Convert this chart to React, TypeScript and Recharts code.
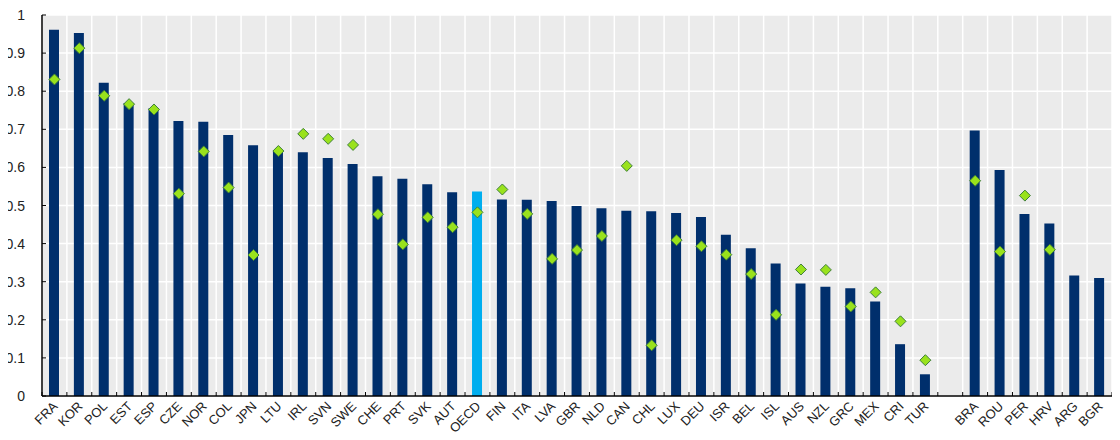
import { Bar, CartesianGrid, Cell, ComposedChart, Line, XAxis, YAxis } from 'recharts';

// country codes, a blank slot separates OECD members from partner economies
const countries = [
  'FRA', 'KOR', 'POL', 'EST', 'ESP', 'CZE', 'NOR', 'COL', 'JPN', 'LTU', 'IRL', 'SVN', 'SWE', 'CHE',
  'PRT', 'SVK', 'AUT', 'OECD', 'FIN', 'ITA', 'LVA', 'GBR', 'NLD', 'CAN', 'CHL', 'LUX', 'DEU', 'ISR',
  'BEL', 'ISL', 'AUS', 'NZL', 'GRC', 'MEX', 'CRI', 'TUR', '', 'BRA', 'ROU', 'PER', 'HRV', 'ARG', 'BGR',
];

const barValues = [
  0.961, 0.953, 0.822, 0.769, 0.755, 0.722, 0.72, 0.685, 0.658, 0.645, 0.64, 0.625, 0.609, 0.577,
  0.57, 0.556, 0.535, 0.537, 0.516, 0.515, 0.512, 0.499, 0.493, 0.486, 0.485, 0.48, 0.47, 0.423,
  0.388, 0.348, 0.295, 0.287, 0.283, 0.248, 0.136, 0.057, null, 0.697, 0.593, 0.478, 0.453, 0.316, 0.31,
];

const diamondValues = [
  0.831, 0.913, 0.788, 0.766, 0.752, 0.531, 0.642, 0.547, 0.37, 0.643, 0.688, 0.675, 0.659, 0.477,
  0.398, 0.469, 0.443, 0.482, 0.542, 0.478, 0.36, 0.383, 0.42, 0.604, 0.133, 0.409, 0.393, 0.371,
  0.32, 0.213, 0.332, 0.331, 0.235, 0.272, 0.196, 0.094, null, 0.565, 0.379, 0.526, 0.384, null, null,
];

const yTicks = [0, 0.1, 0.2, 0.3, 0.4, 0.5, 0.6, 0.7, 0.8, 0.9, 1];

const data = countries.map((name, i) => ({ name, bar: barValues[i], dot: diamondValues[i] }));

const FONT = '"Liberation Sans", Arial, sans-serif';

function CountryTick(props: any) {
  const { x, y, payload, index } = props;
  const half = payload?.offset ?? 12.4;
  return (
    <g>
      <line x1={x - half} x2={x - half} y1={y} y2={y - 4} stroke="#000" />
      {index === countries.length - 1 && (
        <line x1={x + half} x2={x + half} y1={y} y2={y - 4} stroke="#000" />
      )}
      <text
        x={x + 4}
        y={y + 11}
        transform={`rotate(-45, ${x + 4}, ${y + 11})`}
        textAnchor="end"
        fontSize={13}
        fontFamily={FONT}
        fill="#222"
      >
        {payload.value}
      </text>
    </g>
  );
}

// y ticks point into the plot, labels sit well left of the axis
function ValueTick(props: any) {
  const { x, y, payload } = props;
  return (
    <g>
      <line x1={x} x2={x + 4} y1={y} y2={y} stroke="#000" />
      <text
        x={x - 17}
        y={y}
        dy="0.36em"
        textAnchor="end"
        fontSize={14}
        fontFamily={FONT}
        fill="#222"
      >
        {payload.value}
      </text>
    </g>
  );
}

function Diamond(props: any) {
  const { cx, cy, index } = props;
  if (cy == null || cx == null) return <g key={index} />;
  const r = 5.5;
  return (
    <polygon
      key={index}
      points={`${cx},${cy - r} ${cx + r},${cy} ${cx},${cy + r} ${cx - r},${cy}`}
      fill="#99e21c"
      stroke="#3f7f3a"
      strokeWidth={1}
    />
  );
}

export default function App() {
  return (
    <div style={{ margin: '-8px 0 0 -8px', width: 1120, height: 440 }}>
      <ComposedChart
        width={1120}
        height={440}
        data={data}
        margin={{ top: 15, right: 8, left: 0, bottom: 0 }}
        barCategoryGap={0}
      >
        <CartesianGrid
          fill="#ebebeb"
          stroke="#ffffff"
          strokeWidth={1.5}
          verticalCoordinatesGenerator={({ offset }: any) => {
            const step = offset.width / countries.length;
            return countries.map((_, i) => offset.left + i * step).concat(offset.left + offset.width);
          }}
        />
        <XAxis
          dataKey="name"
          interval={0}
          height={44}
          tickSize={0}
          tickMargin={0}
          tickLine={false}
          axisLine={{ stroke: '#000', strokeWidth: 1.5 }}
          tick={<CountryTick />}
        />
        <YAxis
          domain={[0, 1]}
          ticks={yTicks}
          interval={0}
          width={42}
          tickSize={0}
          tickMargin={0}
          tickLine={false}
          axisLine={{ stroke: '#000', strokeWidth: 1.5 }}
          tick={<ValueTick />}
        />
        <Bar dataKey="bar" barSize={10} fill="#002f6c" isAnimationActive={false}>
          {data.map((d) => (
            <Cell key={d.name || 'gap'} fill={d.name === 'OECD' ? '#00aeef' : '#002f6c'} />
          ))}
        </Bar>
        <Line
          dataKey="dot"
          stroke="none"
          strokeWidth={0}
          dot={<Diamond />}
          activeDot={false}
          legendType="none"
          isAnimationActive={false}
        />
      </ComposedChart>
    </div>
  );
}
